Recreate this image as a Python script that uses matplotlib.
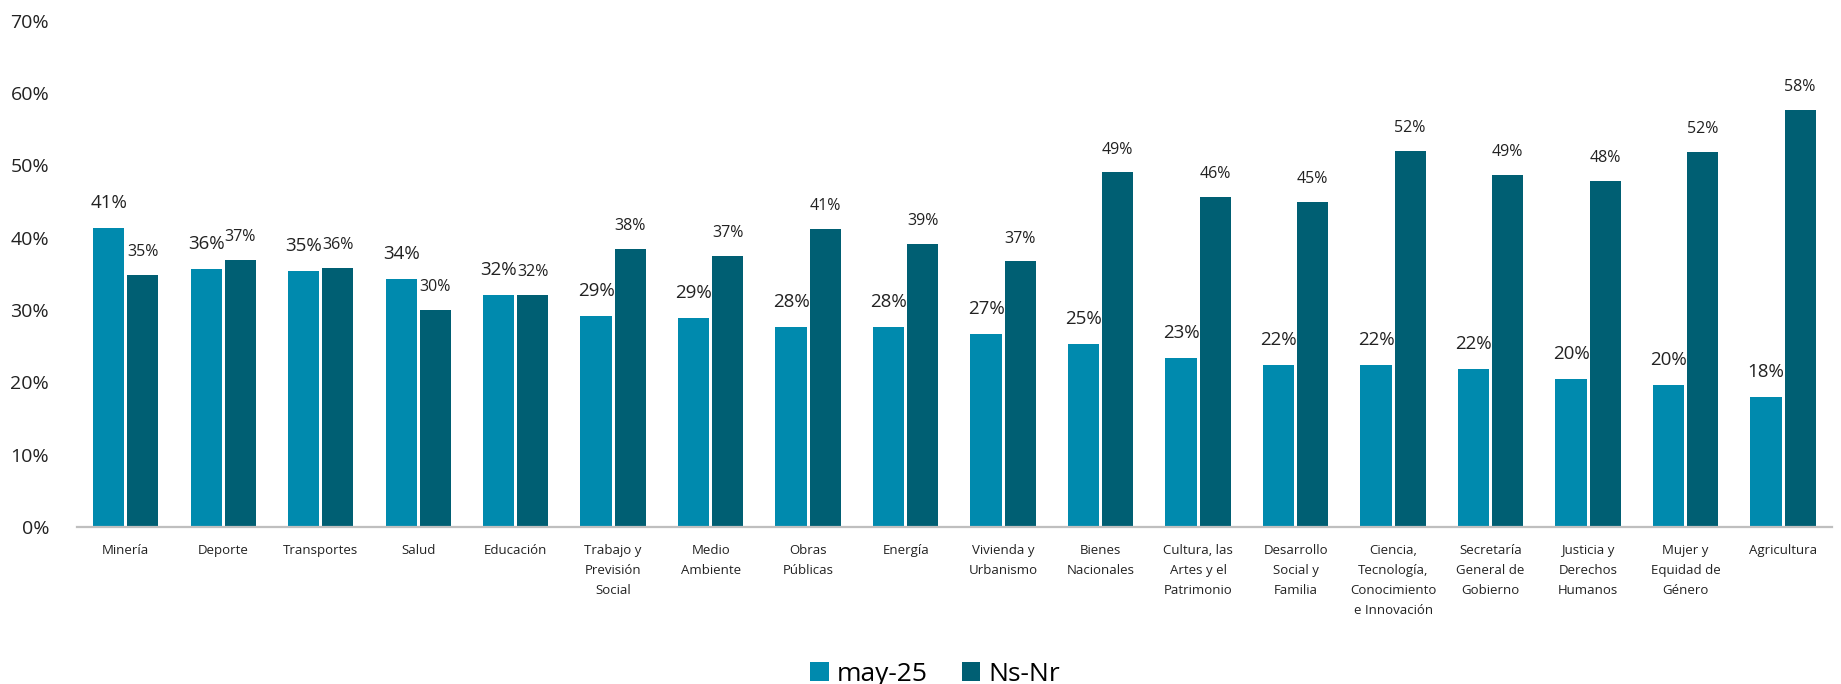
import numpy as np
import matplotlib
matplotlib.use("Agg")
import matplotlib.pyplot as plt
from matplotlib.ticker import PercentFormatter

plt.rcParams['font.family'] = ['Open Sans', 'DejaVu Sans']

# Datos del gráfico (porcentajes)
categorias = ["Minería", "Deporte", "Transportes", "Salud", "Educación",
              "Trabajo y\nPrevisión\nSocial", "Medio\nAmbiente", "Obras\nPúblicas",
              "Energía", "Vivienda y\nUrbanismo", "Bienes\nNacionales",
              "Cultura, las\nArtes y el\nPatrimonio", "Desarrollo\nSocial y\nFamilia",
              "Ciencia,\nTecnología,\nConocimiento\ne Innovación",
              "Secretaría\nGeneral de\nGobierno", "Justicia y\nDerechos\nHumanos",
              "Mujer y\nEquidad de\nGénero", "Agricultura"]
may_25 = [41.3, 35.6, 35.4, 34.3, 32.0, 29.2, 28.9, 27.6, 27.6, 26.7,
          25.3, 23.4, 22.4, 22.4, 21.9, 20.4, 19.6, 18.0]
ns_nr = [34.8, 36.9, 35.8, 30.0, 32.1, 38.4, 37.4, 41.2, 39.1, 36.7,
         49.0, 45.6, 44.9, 52.0, 48.7, 47.8, 51.8, 57.6]

color_may = "#008AAE"
color_nsnr = "#005F73"

fig = plt.figure(figsize=(18.41, 6.84), dpi=100)
ax = fig.add_axes([0.0418, 0.2295, 0.9532, 0.7405])

x = np.arange(len(categorias))
w = 0.32
off = 0.175

b1 = ax.bar(x - off, may_25, w, color=color_may, label="may-25")
b2 = ax.bar(x + off, ns_nr, w, color=color_nsnr, label="Ns-Nr")

for xi, v in zip(x, may_25):
    ax.annotate(f"{round(v)}%", (xi - off, v), xytext=(0, 18), textcoords="offset points",
                ha="center", va="center", fontsize=13.5, color="#222222")
for xi, v in zip(x, ns_nr):
    ax.annotate(f"{round(v)}%", (xi + off, v), xytext=(0, 16.5), textcoords="offset points",
                ha="center", va="center", fontsize=11.5, color="#222222")

ax.set_xlim(-0.5, len(categorias) - 0.5)
ax.set_ylim(0, 70)
ax.set_yticks(np.arange(0, 71, 10))
ax.yaxis.set_major_formatter(PercentFormatter(decimals=0))
ax.set_xticks(x)
ax.set_xticklabels(categorias, fontsize=9.5, linespacing=1.7, va="top")

ax.tick_params(axis="y", length=0, labelsize=14, pad=20, colors="#222222")
ax.tick_params(axis="x", length=0, pad=12, colors="#222222")

for s in ["top", "right", "left"]:
    ax.spines[s].set_visible(False)
ax.spines["bottom"].set_color("#BFBFBF")
ax.spines["bottom"].set_linewidth(1.6)

fig.legend(handles=[b1, b2], loc="center", bbox_to_anchor=(0.508, 0.014), ncol=2,
           frameon=False, fontsize=19, handlelength=0.7, handleheight=0.7,
           handletextpad=0.3, columnspacing=1.3)

fig.savefig("out.png", dpi=100)
